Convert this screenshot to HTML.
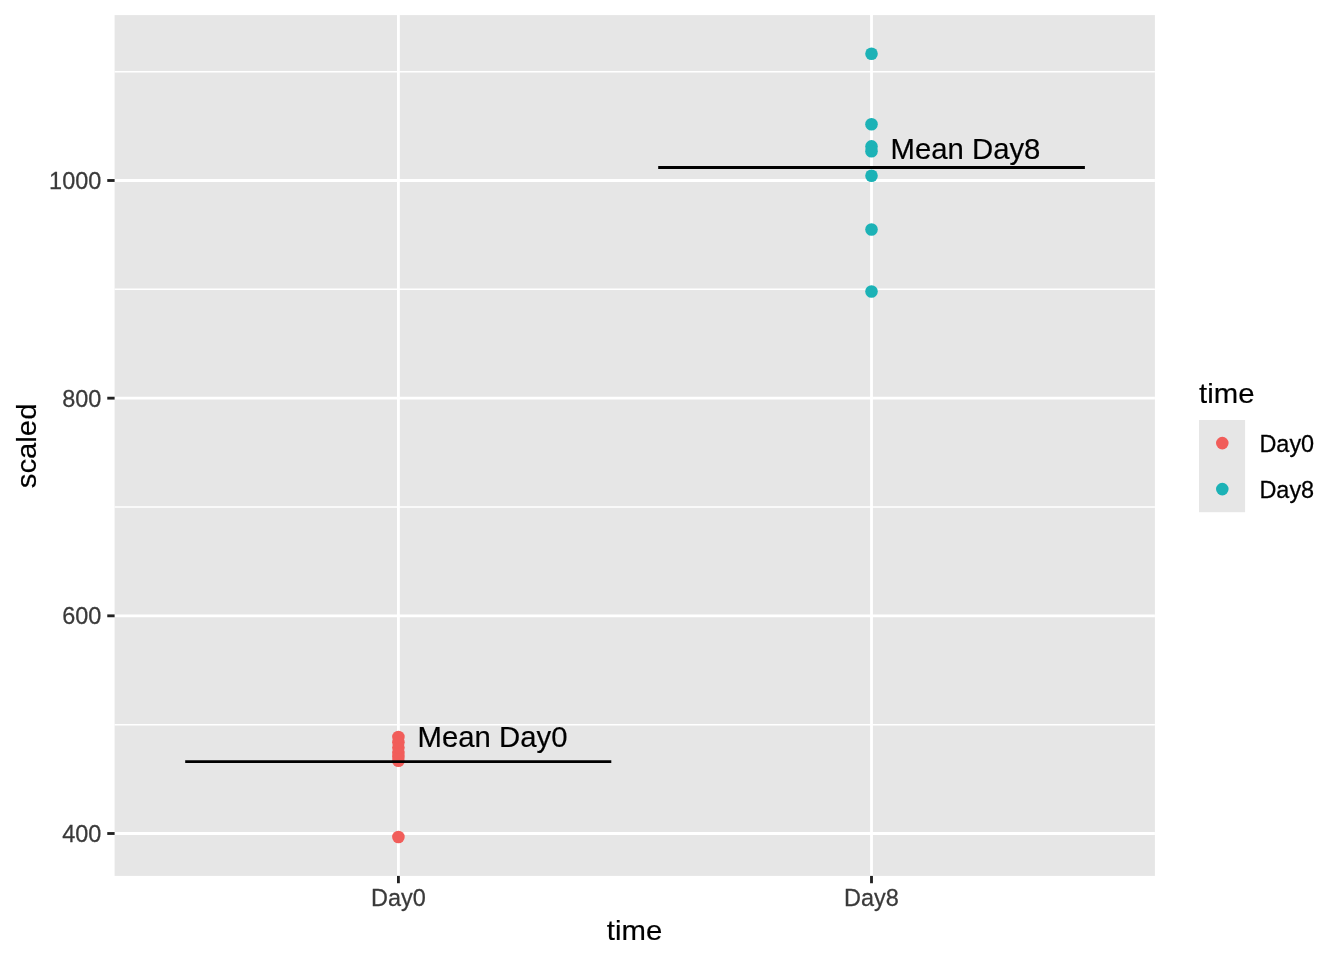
<!DOCTYPE html>
<html lang="en"><head><meta charset="utf-8"><title>time vs scaled</title>
<style>html,body{margin:0;padding:0;background:#fff}svg{display:block}text{font-family:"Liberation Sans",Arial,Helvetica,sans-serif}.ax{font-size:23.47px;fill:#3A3A3A;stroke:#3A3A3A;stroke-width:.25px}.ti{font-size:29.33px;fill:#000;stroke:#000;stroke-width:.18px}.lg{font-size:23.47px;fill:#000;stroke:#000;stroke-width:.25px}</style></head><body>
<svg width="1344" height="960" viewBox="0 0 1344 960">
<rect width="1344" height="960" fill="#fff"/>
<rect x="114.6" y="15.1" width="1040.3" height="860.8" fill="#E6E6E6"/>
<g stroke="#fff" stroke-width="1.42" fill="none">
<line x1="114.6" x2="1154.9" y1="71.67" y2="71.67"/>
<line x1="114.6" x2="1154.9" y1="289.33" y2="289.33"/>
<line x1="114.6" x2="1154.9" y1="507.00" y2="507.00"/>
<line x1="114.6" x2="1154.9" y1="724.67" y2="724.67"/>
</g>
<g stroke="#fff" stroke-width="2.85" fill="none">
<line x1="114.6" x2="1154.9" y1="180.50" y2="180.50"/>
<line x1="114.6" x2="1154.9" y1="398.17" y2="398.17"/>
<line x1="114.6" x2="1154.9" y1="615.83" y2="615.83"/>
<line x1="114.6" x2="1154.9" y1="833.50" y2="833.50"/>
<line x1="398.4" x2="398.4" y1="15.1" y2="875.9"/>
<line x1="871.5" x2="871.5" y1="15.1" y2="875.9"/>
</g>
<g fill="#F15D5A">
<circle cx="398.4" cy="837.0" r="6.3"/>
<circle cx="398.4" cy="760.75" r="6.3"/>
<circle cx="398.4" cy="757.0" r="6.3"/>
<circle cx="398.4" cy="752.9" r="6.3"/>
<circle cx="398.4" cy="747.6" r="6.3"/>
<circle cx="398.4" cy="742.3" r="6.3"/>
<circle cx="398.4" cy="737.0" r="6.3"/>
</g>
<g fill="#1CB2B6">
<circle cx="871.5" cy="53.7" r="6.3"/>
<circle cx="871.5" cy="124.3" r="6.3"/>
<circle cx="871.5" cy="146.4" r="6.3"/>
<circle cx="871.5" cy="151.3" r="6.3"/>
<circle cx="871.5" cy="175.8" r="6.3"/>
<circle cx="871.5" cy="229.5" r="6.3"/>
<circle cx="871.5" cy="291.5" r="6.3"/>
</g>
<g stroke="#000" stroke-width="2.85">
<line x1="185.2" x2="611.3" y1="761.6" y2="761.6"/>
<line x1="658.2" x2="1084.9" y1="167.5" y2="167.5"/>
</g>
<text class="ti" transform="translate(417.6 746.8) scale(1 1.035)">Mean Day0</text>
<text class="ti" transform="translate(890.5 159.0) scale(1 1.035)">Mean Day8</text>
<g stroke="#222" stroke-width="2.85">
<line x1="107.27" x2="114.6" y1="180.50" y2="180.50"/>
<line x1="107.27" x2="114.6" y1="398.17" y2="398.17"/>
<line x1="107.27" x2="114.6" y1="615.83" y2="615.83"/>
<line x1="107.27" x2="114.6" y1="833.50" y2="833.50"/>
<line x1="398.4" x2="398.4" y1="875.9" y2="883.23"/>
<line x1="871.5" x2="871.5" y1="875.9" y2="883.23"/>
</g>
<text class="ax" text-anchor="end" transform="translate(101.3 189.0) scale(1 1.02)">1000</text>
<text class="ax" text-anchor="end" transform="translate(101.3 406.67) scale(1 1.02)">800</text>
<text class="ax" text-anchor="end" transform="translate(101.3 624.33) scale(1 1.02)">600</text>
<text class="ax" text-anchor="end" transform="translate(101.3 842.0) scale(1 1.02)">400</text>
<text class="ax" text-anchor="middle" transform="translate(398.4 906.0) scale(1 1.03)">Day0</text>
<text class="ax" text-anchor="middle" transform="translate(871.5 906.0) scale(1 1.03)">Day8</text>
<text class="ti" text-anchor="middle" transform="translate(634.5 939.6) scale(1 0.97)">time</text>
<text class="ti" text-anchor="middle" transform="translate(35.6 445.9) rotate(-90) scale(1 0.96)">scaled</text>
<text class="ti" transform="translate(1199.1 402.7) scale(1 0.97)">time</text>
<rect x="1199" y="420" width="46.1" height="92.2" fill="#E6E6E6"/>
<circle cx="1222.3" cy="443.1" r="6.3" fill="#F15D5A"/>
<circle cx="1222.3" cy="489.1" r="6.3" fill="#1CB2B6"/>
<text class="lg" transform="translate(1259.4 451.9) scale(1 1.03)">Day0</text>
<text class="lg" transform="translate(1259.4 497.9) scale(1 1.03)">Day8</text>
</svg></body></html>
